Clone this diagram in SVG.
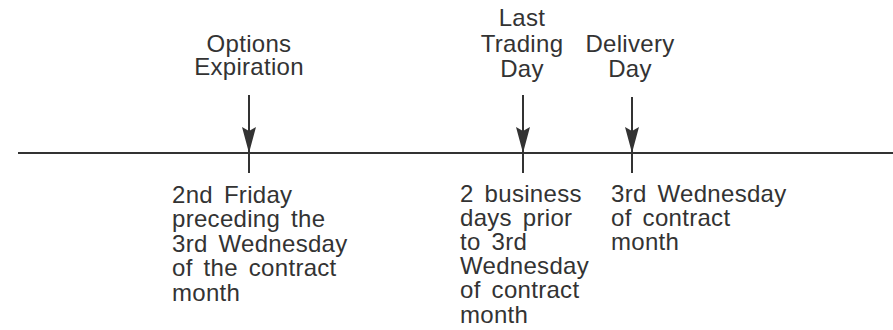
<svg xmlns="http://www.w3.org/2000/svg" width="893" height="330" viewBox="0 0 893 330">
<style>
text{font-family:"Liberation Sans",Arial,sans-serif;font-size:24px;fill:#333;word-spacing:4px;letter-spacing:0.3px}
.c{text-anchor:middle}
.ln{stroke:#333;stroke-width:2;fill:none}
</style>
<defs>
<marker id="ah" markerWidth="26" markerHeight="14" refX="26" refY="7" orient="auto" markerUnits="userSpaceOnUse" viewBox="0 0 26 14">
<path d="M0,0 L4,7 L0,14 L26,7 Z" fill="#333"/>
</marker>
</defs>
<rect width="893" height="330" fill="#fff"/>
<g id="connectors">
<line class="ln" x1="18" y1="153" x2="893" y2="153"/>
<line class="ln" x1="249" y1="95" x2="249" y2="153" marker-end="url(#ah)"/>
<line class="ln" x1="249" y1="153" x2="249" y2="173"/>
<line class="ln" x1="523" y1="95" x2="523" y2="153" marker-end="url(#ah)"/>
<line class="ln" x1="523" y1="153" x2="523" y2="173"/>
<line class="ln" x1="632" y1="97" x2="632" y2="153" marker-end="url(#ah)"/>
<line class="ln" x1="632" y1="153" x2="632" y2="173"/>
</g>
<g id="options-expiration">
<text class="c" x="249" y="52">Options</text>
<text class="c" x="249" y="75">Expiration</text>
<text x="172" y="203">2nd Friday</text>
<text x="172" y="227">preceding the</text>
<text x="172" y="252">3rd Wednesday</text>
<text x="172" y="276">of the contract</text>
<text x="172" y="301">month</text>
</g>
<g id="last-trading-day">
<text class="c" x="522" y="26">Last</text>
<text class="c" x="522" y="52">Trading</text>
<text class="c" x="522" y="77">Day</text>
<text x="460" y="202">2 business</text>
<text x="460" y="226">days prior</text>
<text x="460" y="250">to 3rd</text>
<text x="460" y="274">Wednesday</text>
<text x="460" y="298">of contract</text>
<text x="460" y="323">month</text>
</g>
<g id="delivery-day">
<text class="c" x="630" y="52">Delivery</text>
<text class="c" x="630" y="77">Day</text>
<text x="611" y="202">3rd Wednesday</text>
<text x="611" y="226">of contract</text>
<text x="611" y="250">month</text>
</g>
</svg>
